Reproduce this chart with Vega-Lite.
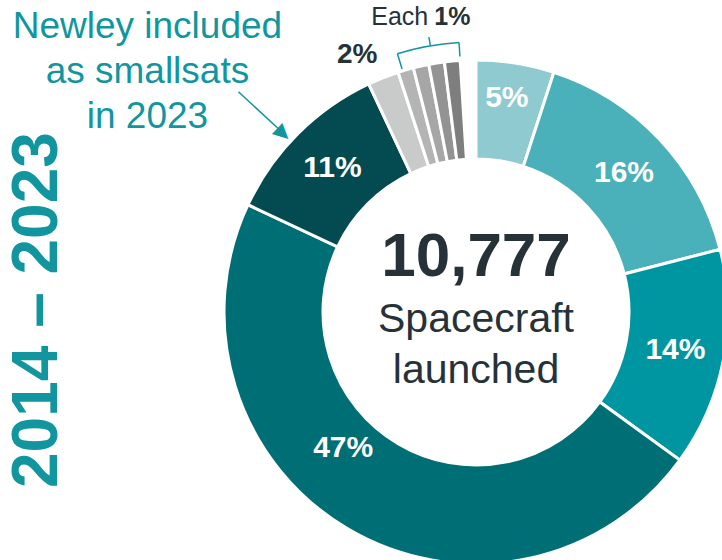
{
  "$schema": "https://vega.github.io/schema/vega-lite/v6.json",
  "width": 952,
  "height": 624,
  "autosize": {"type": "none"},
  "padding": {"left": 0, "top": 0, "right": -230, "bottom": -64},
  "background": "white",
  "config": {"view": {"stroke": null}, "font": "Liberation Sans"},
  "data": {
    "values": [
      {"idx": 1, "group": "G1", "share": 0.05},
      {"idx": 2, "group": "G2", "share": 0.16},
      {"idx": 3, "group": "G3", "share": 0.14},
      {"idx": 4, "group": "G4", "share": 0.47},
      {"idx": 5, "group": "G5", "share": 0.11},
      {"idx": 6, "group": "G6", "share": 0.02},
      {"idx": 7, "group": "G7", "share": 0.01},
      {"idx": 8, "group": "G8", "share": 0.01},
      {"idx": 9, "group": "G9", "share": 0.01},
      {"idx": 10, "group": "G10", "share": 0.01}
    ]
  },
  "layer": [
    {
      "mark": {"type": "arc", "innerRadius": 153, "outerRadius": 252, "stroke": "white", "strokeWidth": 3},
      "encoding": {
        "theta": {"field": "share", "type": "quantitative", "stack": true, "scale": {"domain": [0, 1]}},
        "order": {"field": "idx", "type": "quantitative"},
        "color": {
          "field": "group", "type": "nominal", "legend": null,
          "scale": {
            "domain": ["G1", "G2", "G3", "G4", "G5", "G6", "G7", "G8", "G9", "G10"],
            "range": ["#8FCAD1", "#4AB1BA", "#0096A1", "#006E75", "#034B51", "#C9CACA", "#B4B4B4", "#A6A6A6", "#939393", "#7E7E7E"]
          }
        }
      }
    },
    {
      "mark": {"type": "text", "radius": 203, "fontSize": 30, "fontWeight": "bold", "fill": "white"},
      "encoding": {
        "theta": {"field": "share", "type": "quantitative", "stack": true, "scale": {"domain": [0, 1]}},
        "order": {"field": "idx", "type": "quantitative"},
        "detail": {"field": "group", "type": "nominal"},
        "text": {"condition": {"test": "datum.share < 0.1 || datum.share > 0.4", "value": ""}, "field": "share", "type": "quantitative", "format": ".0%"}
      }
    },
    {
      "mark": {"type": "text", "radius": 216, "thetaOffset": -0.014, "fontSize": 30, "fontWeight": "bold", "fill": "white"},
      "encoding": {
        "theta": {"field": "share", "type": "quantitative", "stack": true, "scale": {"domain": [0, 1]}},
        "order": {"field": "idx", "type": "quantitative"},
        "detail": {"field": "group", "type": "nominal"},
        "text": {"condition": {"test": "datum.share < 0.04 || datum.share > 0.06", "value": ""}, "field": "share", "type": "quantitative", "format": ".0%"}
      }
    },
    {
      "mark": {"type": "text", "radius": 190, "thetaOffset": 0.24, "fontSize": 30, "fontWeight": "bold", "fill": "white"},
      "encoding": {
        "theta": {"field": "share", "type": "quantitative", "stack": true, "scale": {"domain": [0, 1]}},
        "order": {"field": "idx", "type": "quantitative"},
        "detail": {"field": "group", "type": "nominal"},
        "text": {"condition": {"test": "datum.share < 0.4", "value": ""}, "field": "share", "type": "quantitative", "format": ".0%"}
      }
    },
    {
      "mark": {"type": "text", "radius": 283, "thetaOffset": -0.056, "fontSize": 28, "fontWeight": "bold", "fill": "#263238"},
      "encoding": {
        "theta": {"field": "share", "type": "quantitative", "stack": true, "scale": {"domain": [0, 1]}},
        "order": {"field": "idx", "type": "quantitative"},
        "detail": {"field": "group", "type": "nominal"},
        "text": {"condition": {"test": "datum.share < 0.015 || datum.share > 0.025", "value": ""}, "field": "share", "type": "quantitative", "format": ".0%"}
      }
    },
    {
      "data": {"values": [{}]},
      "mark": {"type": "arc", "innerRadius": 270, "outerRadius": 270, "fill": "transparent", "stroke": "#1196A0", "strokeWidth": 1.5},
      "encoding": {
        "theta": {"datum": 0.953, "type": "quantitative", "scale": {"domain": [0, 1]}},
        "theta2": {"datum": 0.99}
      }
    },
    {
      "data": {"values": [{}]},
      "mark": {"type": "arc", "innerRadius": 254, "outerRadius": 270, "fill": "transparent", "stroke": "#1196A0", "strokeWidth": 1.5},
      "encoding": {
        "theta": {"datum": 0.953, "type": "quantitative", "scale": {"domain": [0, 1]}},
        "theta2": {"datum": 0.953}
      }
    },
    {
      "data": {"values": [{}]},
      "mark": {"type": "arc", "innerRadius": 256, "outerRadius": 270, "fill": "transparent", "stroke": "#1196A0", "strokeWidth": 1.5},
      "encoding": {
        "theta": {"datum": 0.99, "type": "quantitative", "scale": {"domain": [0, 1]}},
        "theta2": {"datum": 0.99}
      }
    },
    {
      "data": {"values": [{}]},
      "mark": {"type": "arc", "innerRadius": 270, "outerRadius": 279, "fill": "transparent", "stroke": "#1196A0", "strokeWidth": 1.5},
      "encoding": {
        "theta": {"datum": 0.973, "type": "quantitative", "scale": {"domain": [0, 1]}},
        "theta2": {"datum": 0.973}
      }
    },
    {
      "data": {"values": [{}]},
      "mark": {"type": "text", "text": "Each", "radius": 298, "align": "right", "dx": -3, "fontSize": 25, "fill": "#263238"},
      "encoding": {
        "theta": {"datum": 0.976, "type": "quantitative", "scale": {"domain": [0, 1]}}
      }
    },
    {
      "data": {"values": [{}]},
      "mark": {"type": "text", "text": "1%", "radius": 298, "align": "left", "dx": 3, "fontSize": 25, "fontWeight": "bold", "fill": "#263238"},
      "encoding": {
        "theta": {"datum": 0.976, "type": "quantitative", "scale": {"domain": [0, 1]}}
      }
    },
    {
      "data": {"values": [{}]},
      "mark": {"type": "arc", "innerRadius": 268, "outerRadius": 324, "fill": "transparent", "stroke": "#1196A0", "strokeWidth": 1.5},
      "encoding": {
        "theta": {"datum": 0.869, "type": "quantitative", "scale": {"domain": [0, 1]}},
        "theta2": {"datum": 0.869}
      }
    },
    {
      "data": {"values": [{}]},
      "mark": {"type": "text", "text": "▶", "radius": 263, "angle": 43, "font": "DejaVu Sans", "fontSize": 20, "fill": "#1196A0"},
      "encoding": {
        "theta": {"datum": 0.869, "type": "quantitative", "scale": {"domain": [0, 1]}}
      }
    },
    {
      "data": {"values": [{}]},
      "mark": {"type": "text", "text": ["Newley included", "as smallsats", "in 2023"], "radius": 428, "baseline": "alphabetic", "lineHeight": 45, "fontSize": 37, "fill": "#1196A0"},
      "encoding": {
        "theta": {"datum": 0.8607, "type": "quantitative", "scale": {"domain": [0, 1]}}
      }
    },
    {
      "data": {"values": [{}]},
      "mark": {"type": "text", "text": "2014 – 2023", "radius": 438, "angle": 270, "fontSize": 64, "fontWeight": "bold", "fill": "#1196A0"},
      "encoding": {
        "theta": {"datum": 0.7507, "type": "quantitative", "scale": {"domain": [0, 1]}}
      }
    },
    {
      "data": {"values": [{}]},
      "mark": {"type": "text", "text": "10,777", "baseline": "alphabetic", "dy": -36, "fontSize": 62, "fontWeight": "bold", "fill": "#263238"},
      "encoding": {}
    },
    {
      "data": {"values": [{}]},
      "mark": {"type": "text", "text": ["Spacecraft", "launched"], "baseline": "alphabetic", "dy": 20, "lineHeight": 51, "fontSize": 41, "fill": "#263238"},
      "encoding": {}
    }
  ]
}
